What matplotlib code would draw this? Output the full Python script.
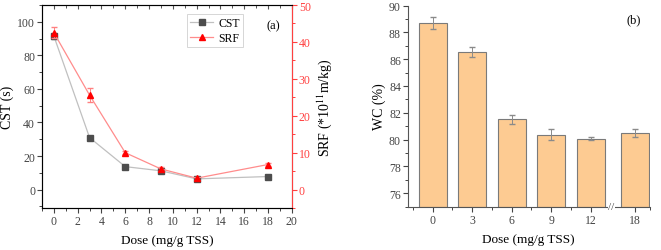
import numpy as np
from matplotlib import pyplot as plt
from matplotlib.lines import Line2D
from matplotlib.ticker import MultipleLocator

plt.rcParams['font.family'] = ['Liberation Serif', 'DejaVu Serif']
plt.rcParams['mathtext.fontset'] = 'stix'

# (a) CST / SRF vs dose
dose = [0, 3, 6, 9, 12, 18]
cst = [91.5, 31, 13.7, 11.2, 6.4, 7.8]
cst_err = [1.5, 1.2, 0.6, 0.6, 0.5, 0.4]
srf = [42.5, 25.6, 10.0, 5.6, 3.1, 6.8]
srf_err = [1.5, 2.0, 0.4, 0.5, 0.4, 0.3]

# (b) water content
wc_labels = ['0', '3', '6', '9', '12', '18']
wc = [88.68, 86.52, 81.52, 80.38, 80.08, 80.48]
wc_err = [0.45, 0.37, 0.32, 0.42, 0.12, 0.32]
wc_pos = [0, 1, 2, 3, 4, 5.12]

fig = plt.figure(figsize=(6.61, 2.51), dpi=100)

# ---- panel a
ax = fig.add_axes([0.0635, 0.167, 0.378, 0.809])
ax.errorbar(dose, cst, yerr=cst_err, color='#c0c0c0', lw=0.9, marker='s', ms=4,
            mfc='#4d4d4d', mec='#4d4d4d', ecolor='#a0a0a0', elinewidth=0.7,
            capsize=2, zorder=3)
ax.set_xlim(-1, 20)
ax.set_ylim(-11, 110)
ax.xaxis.set_major_locator(MultipleLocator(2))
ax.xaxis.set_minor_locator(MultipleLocator(1))
ax.yaxis.set_major_locator(MultipleLocator(20))
ax.yaxis.set_minor_locator(MultipleLocator(10))
ax.tick_params(which='both', direction='out', labelsize=8.5, colors='#444444', pad=1.5)
ax.tick_params(which='major', length=3.5, width=0.8)
ax.tick_params(which='minor', length=2, width=0.7)
for s in ax.spines.values():
    s.set_color('#555555')
    s.set_linewidth(0.8)
ax.set_xlabel('Dose (mg/g TSS)', fontsize=9.5, labelpad=5)
ax.set_ylabel('CST (s)', fontsize=10, labelpad=2)

top = ax.secondary_xaxis('top')
top.xaxis.set_major_locator(MultipleLocator(2))
top.xaxis.set_minor_locator(MultipleLocator(1))
top.tick_params(which='both', direction='in', labeltop=False, colors='#555555')
top.tick_params(which='major', length=3, width=0.8)
top.tick_params(which='minor', length=1.8, width=0.7)
top.spines['top'].set_visible(False)

ax2 = ax.twinx()
ax2.errorbar(dose, srf, yerr=srf_err, color='#ff8c8c', lw=0.9, marker='^', ms=5,
             mfc='#ff0000', mec='#ff0000', ecolor='#ff8080', elinewidth=0.7,
             capsize=2, zorder=3)
ax2.set_ylim(-5, 50)
ax2.yaxis.set_major_locator(MultipleLocator(10))
ax2.yaxis.set_minor_locator(MultipleLocator(5))
ax2.tick_params(which='both', direction='out', labelsize=8.5, colors='#ff4040', pad=1.5)
ax2.tick_params(which='major', length=3.5, width=0.8)
ax2.tick_params(which='minor', length=2, width=0.7)
ax2.spines['right'].set_color('#ff4040')
ax2.spines['right'].set_linewidth(0.8)
ax2.set_ylabel('SRF (*10$^{11}$m/kg)', fontsize=10, labelpad=3)

handles = [Line2D([], [], color='#c0c0c0', lw=0.9, marker='s', ms=4,
                  mfc='#4d4d4d', mec='#4d4d4d'),
           Line2D([], [], color='#ff8c8c', lw=0.9, marker='^', ms=5,
                  mfc='#ff0000', mec='#ff0000')]
leg = ax2.legend(handles, ['CST', 'SRF'], loc='upper left', bbox_to_anchor=(0.58, 0.955),
                 fontsize=8.5, frameon=True, fancybox=False, edgecolor='#cccccc',
                 handlelength=2.0, borderpad=0.25, labelspacing=0.25, handletextpad=0.4,
                 borderaxespad=0)
leg.get_frame().set_linewidth(0.7)
ax2.text(0.925, 0.885, '(a)', transform=ax2.transAxes, fontsize=9, ha='center')

# ---- panel b
bx = fig.add_axes([0.617, 0.1725, 0.366, 0.8015])
bx.bar(wc_pos, np.array(wc) - 75, bottom=75, width=0.71, color='#fdcb92',
       edgecolor='#7a7a7a', linewidth=0.8, yerr=wc_err,
       error_kw=dict(ecolor='#8a8a8a', elinewidth=0.7, capsize=2))
bx.set_xlim(-0.63, 5.5)
bx.set_ylim(75, 90)
bx.set_xticks(wc_pos)
bx.set_xticklabels(wc_labels)
bx.set_xticks([-0.5, 0.5, 1.5, 2.5, 3.5, 5.5], minor=True)
bx.yaxis.set_major_locator(MultipleLocator(2))
bx.yaxis.set_minor_locator(MultipleLocator(1))
bx.tick_params(which='both', direction='out', labelsize=8.5, colors='#444444', pad=1.5)
bx.tick_params(which='major', length=3.5, width=0.8)
bx.tick_params(which='minor', length=2, width=0.7)
bx.spines['top'].set_visible(False)
bx.spines['right'].set_visible(False)
for s in ['left', 'bottom']:
    bx.spines[s].set_color('#555555')
    bx.spines[s].set_linewidth(0.8)
bx.set_xlabel('Dose (mg/g TSS)', fontsize=9.5, labelpad=5)
bx.set_ylabel('WC (%)', fontsize=10, labelpad=2)
bx.text(0.935, 0.915, '(b)', transform=bx.transAxes, fontsize=9, ha='center')

# axis break mark
bx.text(4.53, 75, '//', fontsize=8, ha='center', va='center', color='#444444',
        bbox=dict(facecolor='white', edgecolor='none', pad=0.5), clip_on=False, zorder=5)

fig.savefig('out.png', dpi=100)
